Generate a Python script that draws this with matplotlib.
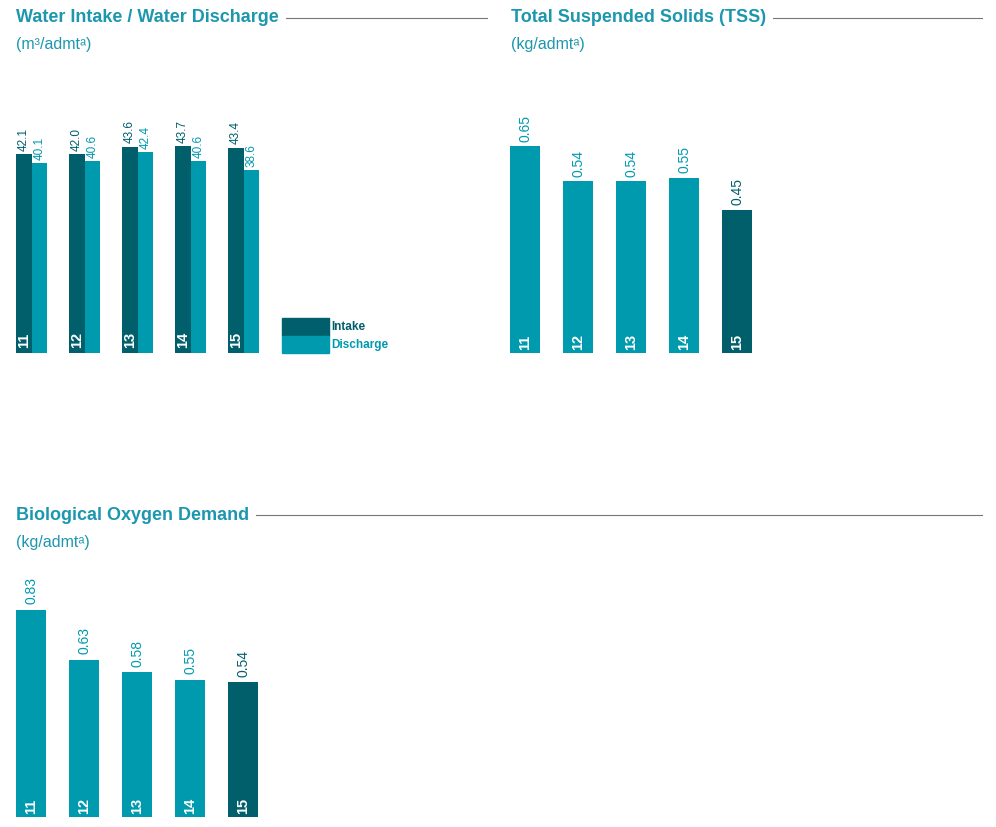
import matplotlib
matplotlib.use("Agg")
import matplotlib.pyplot as plt
from matplotlib.patches import Rectangle

years = ["11", "12", "13", "14", "15"]
intake = [42.1, 42.0, 43.6, 43.7, 43.4]
discharge = [40.1, 40.6, 42.4, 40.6, 38.6]
tss = [0.65, 0.54, 0.54, 0.55, 0.45]
bod = [0.83, 0.63, 0.58, 0.55, 0.54]

DARK = "#005F6B"
LIGHT = "#009AAE"
TITLE = "#1C97AE"
W, H = 996, 827
fig = plt.figure(figsize=(W/100, H/100), dpi=100)

def fx(x): return x / W
def fy(y): return 1 - y / H

def panel_axes(base_px, center0, pitch, ppu):
    ax = fig.add_axes([0, fy(base_px), 1, base_px / H])
    ax.set_xlim((0 - center0) / pitch, (W - center0) / pitch)
    ax.set_ylim(0, base_px / ppu)
    ax.axis("off")
    ax.patch.set_alpha(0)
    return ax

def header(x, y, title, sub, line_end):
    t = fig.text(fx(x), fy(y), title, color=TITLE, fontsize=13, fontweight="bold",
                 va="center", ha="left", family="Liberation Sans")
    fig.canvas.draw()
    bb = t.get_window_extent()
    fig.add_artist(plt.Line2D([bb.x1 / W + 0.007, fx(line_end)], [fy(y), fy(y)],
                              color="#777777", lw=0.8))
    fig.text(fx(x), fy(y + 27), sub, color=TITLE, fontsize=11.5, va="center",
             ha="left", family="Liberation Sans")

# Panel 1: water
ax1 = panel_axes(353, 31.5, 53, 4.73)
bw = 15.5 / 53
xs = range(len(years))
for i in xs:
    ax1.bar(i - bw/2, intake[i], bw, color=DARK)
    ax1.bar(i + bw/2, discharge[i], bw, color=LIGHT)
    ax1.text(i - bw/2, intake[i] + 0.7, f"{intake[i]:.1f}", rotation=90, ha="center",
             va="bottom", fontsize=8.5, color=DARK, family="Liberation Sans")
    ax1.text(i + bw/2, discharge[i] + 0.7, f"{discharge[i]:.1f}", rotation=90, ha="center",
             va="bottom", fontsize=8.5, color=LIGHT, family="Liberation Sans")
    ax1.text(i - bw/2, 1.0, years[i], rotation=90, ha="center", va="bottom",
             fontsize=10.5, color="white", fontweight="bold", family="Liberation Sans")
header(16, 18, "Water Intake / Water Discharge", "(m³/admtᵃ)", 487)
fig.add_artist(Rectangle((fx(282), fy(336)), 47/W, 18/H, color=DARK))
fig.add_artist(Rectangle((fx(282), fy(353)), 47/W, 17/H, color=LIGHT))
fig.text(fx(331), fy(327), "Intake", color=DARK, fontsize=8.5, fontweight="bold",
         va="center", family="Liberation Sans")
fig.text(fx(331), fy(345), "Discharge", color=LIGHT, fontsize=8.5, fontweight="bold",
         va="center", family="Liberation Sans")

def single(ax, vals, top_pad):
    for i, v in enumerate(vals):
        c = DARK if i == len(vals) - 1 else LIGHT
        ax.bar(i, v, 30/53, color=c)
        ax.text(i, v + top_pad, f"{v:.2f}", rotation=90, ha="center", va="bottom",
                fontsize=10, color=c, family="Liberation Sans")
        ax.text(i, top_pad * 0.6, years[i], rotation=90, ha="center", va="bottom",
                fontsize=10.5, color="white", fontweight="bold", family="Liberation Sans")

ax2 = panel_axes(353, 525, 53, 318)
single(ax2, tss, 0.015)
header(511, 18, "Total Suspended Solids (TSS)", "(kg/admtᵃ)", 982)

ax3 = panel_axes(817, 31, 53, 250)
single(ax3, bod, 0.02)
header(16, 515, "Biological Oxygen Demand", "(kg/admtᵃ)", 982)

fig.savefig("out.png", dpi=100)
